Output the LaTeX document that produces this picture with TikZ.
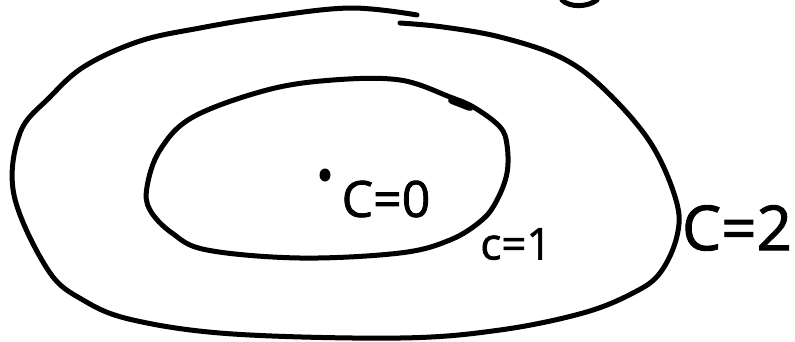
\documentclass[tikz,border=0pt]{standalone}
\usepackage{fontspec}
\newfontfamily\handfont{Open Sans}[FakeBold=1.5]
\usepackage{tikz}
\usetikzlibrary{positioning, shapes.geometric}

\begin{document}
\begin{tikzpicture}[
  x=1pt, y=-1pt,
  level/.style={line width=5pt, line cap=round, line join=round},
  lbl/.style={inner sep=0pt},
  dotmark/.style={ellipse, fill, inner sep=0pt, minimum width=11pt, minimum height=13pt}
]
\useasboundingbox (0,0) rectangle (795,341);

% outer level curve C=2
\draw[level] plot[smooth, tension=0.6] coordinates {
  (400,23) (443,27) (500,37) (560,57) (603,88) (650,142) (676,200)
  (677,236) (660,273) (633,293) (583,313) (500,330) (400,338)
  (233,334) (133,320) (83,300) (48,270) (14,195) (20,133) (50,97)
  (85,66) (140,41) (200,28) (267,17) (350,8) (417,15)};

% inner level curve C=1
\draw[level] plot[smooth cycle, tension=0.6] coordinates {
  (400,80) (450,97) (475,108) (500,127) (507,145) (507,173) (497,200)
  (482,220) (450,240) (400,253) (300,258) (207,250) (172,233) (150,210)
  (147,187) (160,150) (193,117) (267,90) (333,80)};
\draw[line width=8pt, line cap=round] (452,100) -- (470,107);

% fragment at top edge
\draw[level] (562,0) .. controls (570,8) and (588,7) .. (597,0);

% centre point and labels
\node[dotmark] (p0) at (325,175) {};
\node[lbl, font=\handfont\fontsize{50}{50}\selectfont] (czero) at (386,199) {C=0};
\node[lbl, font=\handfont\fontsize{44}{44}\selectfont] (cone) at (516,244) {c=1};
\node[lbl, font=\handfont\fontsize{62}{62}\selectfont] (ctwo) at (737,228) {C=2};

\end{tikzpicture}
\end{document}
